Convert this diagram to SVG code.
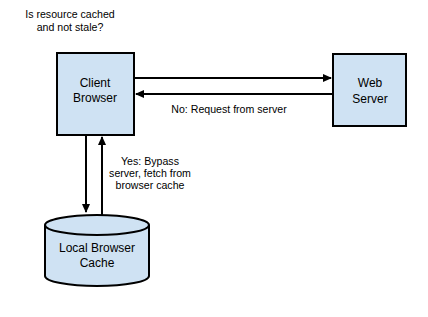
<svg xmlns="http://www.w3.org/2000/svg" width="428" height="317" viewBox="0 0 428 317">
<style>
.node{fill:#cfe2f3;stroke:#000;stroke-width:2}
.nt{font-family:"Liberation Sans",Arial,sans-serif;font-size:12px;fill:#000;text-anchor:middle}
.lt{font-family:"Liberation Sans",Arial,sans-serif;font-size:10.6px;fill:#000;text-anchor:middle}
.conn{stroke:#000;stroke-width:2;fill:none}
</style>
<defs>
<marker id="ah" markerWidth="10" markerHeight="10" refX="8" refY="5" orient="auto" markerUnits="userSpaceOnUse">
<path d="M0,1 L9,5 L0,9 Z" fill="#000"/>
</marker>
</defs>
<rect width="428" height="317" fill="#fff"/>
<text class="lt" x="70" y="18">Is resource cached</text>
<text class="lt" x="70" y="31">and not stale?</text>
<g id="connectors">
<line class="conn" x1="134" y1="78" x2="331" y2="78" marker-end="url(#ah)"/>
<line class="conn" x1="333" y1="94" x2="136" y2="94" marker-end="url(#ah)"/>
<line class="conn" x1="86" y1="135" x2="86" y2="212" marker-end="url(#ah)"/>
<line class="conn" x1="102" y1="215" x2="102" y2="137" marker-end="url(#ah)"/>
<text class="lt" x="229" y="113">No: Request from server</text>
<text class="lt" x="150" y="165">Yes: Bypass</text>
<text class="lt" x="150" y="177">server, fetch from</text>
<text class="lt" x="150" y="189">browser cache</text>
</g>
<g id="client">
<rect class="node" x="57" y="53" width="77" height="82"/>
<text class="nt" x="95" y="87">Client</text>
<text class="nt" x="95" y="102">Browser</text>
</g>
<g id="server">
<rect class="node" x="333" y="54" width="73" height="72"/>
<text class="nt" x="370" y="87">Web</text>
<text class="nt" x="370" y="103">Server</text>
</g>
<g id="cache">
<path class="node" d="M45,225 A52,10 0 0 1 149,225 L149,276 A52,10 0 0 1 45,276 Z"/>
<path class="node" d="M45,225 A52,10 0 0 0 149,225" fill="none"/>
<text class="nt" x="97" y="252">Local Browser</text>
<text class="nt" x="97" y="267">Cache</text>
</g>
</svg>
